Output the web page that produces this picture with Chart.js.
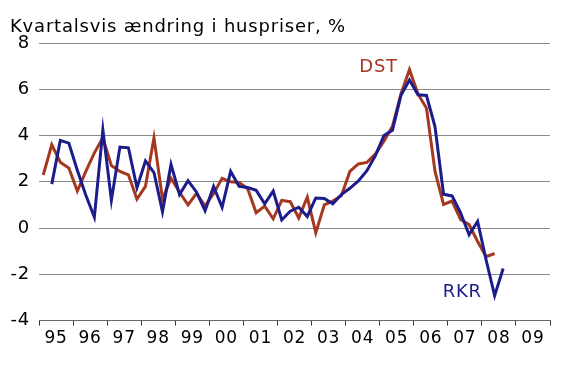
<!DOCTYPE html>
<html>
<head>
<meta charset="utf-8">
<script src="https://cdn.jsdelivr.net/npm/chart.js@4"></script>
<style>
  html, body { margin: 0; padding: 0; background: #fff; }
  #wrap { width: 570px; height: 368px; }
</style>
</head>
<body>
<div id="wrap"><canvas id="chart" width="570" height="368"></canvas></div>
<script>
'use strict';

// quarterly data, 1995Q1 .. 2008Q3 (index 0 = 95Q1)
const yearLabels = ['95', '96', '97', '98', '99', '00', '01', '02', '03', '04', '05', '06', '07', '08', '09'];

const dst = [
    2.3, 3.6, 2.85, 2.6,
    1.6, 2.45, 3.25, 3.9,
    2.7, 2.45, 2.3, 1.25,
    1.8, 3.9, 1.25, 2.15,
    1.55, 1.0, 1.5, 0.95,
    1.5, 2.15, 2.0, 1.97,
    1.7, 0.66, 0.95, 0.4,
    1.2, 1.14, 0.44, 1.34,
    -0.2, 1.0, 1.17, 1.4,
    2.45, 2.77, 2.84, 3.2,
    3.75, 4.4, 5.8, 6.85,
    5.8, 5.18, 2.45, 1.02,
    1.17, 0.37, 0.15, -0.58,
    -1.24, -1.1
];

const rkr = [
    null, 1.9, 3.79, 3.67,
    2.5, 1.42, 0.47, 4.25,
    1.2, 3.5, 3.47, 1.75,
    2.9, 2.4, 0.7, 2.75,
    1.45, 2.05, 1.55, 0.75,
    1.8, 0.9, 2.45, 1.8,
    1.75, 1.63, 1.05, 1.6,
    0.35, 0.73, 0.9, 0.5,
    1.3, 1.28, 1.05, 1.45,
    1.72, 2.04, 2.48, 3.13,
    4.0, 4.23, 5.74, 6.4,
    5.76, 5.73, 4.38, 1.46,
    1.39, 0.66, -0.29, 0.29,
    -1.38, -2.92, -1.75
];

const yTicks = [-4, -2, 0, 2, 4, 6, 8];

const titleText = 'Kvartalsvis ændring i huspriser, %';
// series name labels, placed in data coordinates (x in quarters, y in %)
const seriesNotes = [
    { text: 'DST', x: 37.6, y: 6.76, color: '#a5381f' },
    { text: 'RKR', x: 47.4, y: -2.96, color: '#1c1c8c' }
];

const toPoints = (arr) => arr.map((v, i) => ({ x: i + 0.5, y: v }));

const FONT = "'DejaVu Sans', Verdana, sans-serif";

const textPlugin = {
    id: 'texts',
    beforeUpdate: (chart) => {
        // the reference text is a bit more loosely spaced than DejaVu
        chart.ctx.letterSpacing = '0.8px';
    },
    afterDraw: (chart) => {
        const ctx = chart.ctx;
        const xs = chart.scales.x, ys = chart.scales.y;
        ctx.save();
        ctx.fillStyle = '#000';
        ctx.font = '18px ' + FONT;
        ctx.textAlign = 'left';
        ctx.textBaseline = 'alphabetic';
        ctx.fillText(titleText, 10, 32);
        seriesNotes.forEach((n) => {
            ctx.fillStyle = n.color;
            ctx.fillText(n.text, xs.getPixelForValue(n.x), ys.getPixelForValue(n.y));
        });
        ctx.restore();
    }
};

new Chart(document.getElementById('chart'), {
    type: 'line',
    data: {
        datasets: [
            {
                label: 'RKR',
                data: toPoints(rkr),
                borderColor: '#1c1c8c',
                borderWidth: 3,
                pointRadius: 0,
                tension: 0
            },
            {
                label: 'DST',
                data: toPoints(dst),
                borderColor: '#a5381f',
                borderWidth: 3,
                pointRadius: 0,
                tension: 0
            }
        ]
    },
    plugins: [textPlugin],
    options: {
        responsive: false,
        animation: false,
        layout: { padding: { top: 43, right: 20, bottom: 16, left: 0 } },
        plugins: {
            legend: { display: false },
            title: { display: false },
            tooltip: { enabled: false }
        },
        scales: {
            x: {
                type: 'linear',
                min: 0,
                max: yearLabels.length * 4,
                border: { display: true, color: '#666', width: 1 },
                grid: {
                    drawOnChartArea: false,
                    drawTicks: true,
                    tickLength: 5,
                    tickColor: (c) => (c.tick && c.tick.value % 4 === 0) ? '#333' : 'rgba(0,0,0,0)'
                },
                ticks: {
                    stepSize: 2,
                    autoSkip: false,
                    maxRotation: 0,
                    padding: 3,
                    color: '#000',
                    font: { family: FONT, size: 17 },
                    callback: (v) => (v % 4 === 2) ? yearLabels[(v - 2) / 4] : ''
                }
            },
            y: {
                min: yTicks[0],
                max: yTicks[yTicks.length - 1],
                afterFit: (scale) => { scale.width = 39; },
                border: { display: false },
                grid: { color: '#8a8a8a', lineWidth: 1, drawTicks: false },
                ticks: {
                    stepSize: 2,
                    padding: 9,
                    color: '#000',
                    font: { family: FONT, size: 18 }
                }
            }
        }
    }
});
</script>
</body>
</html>
